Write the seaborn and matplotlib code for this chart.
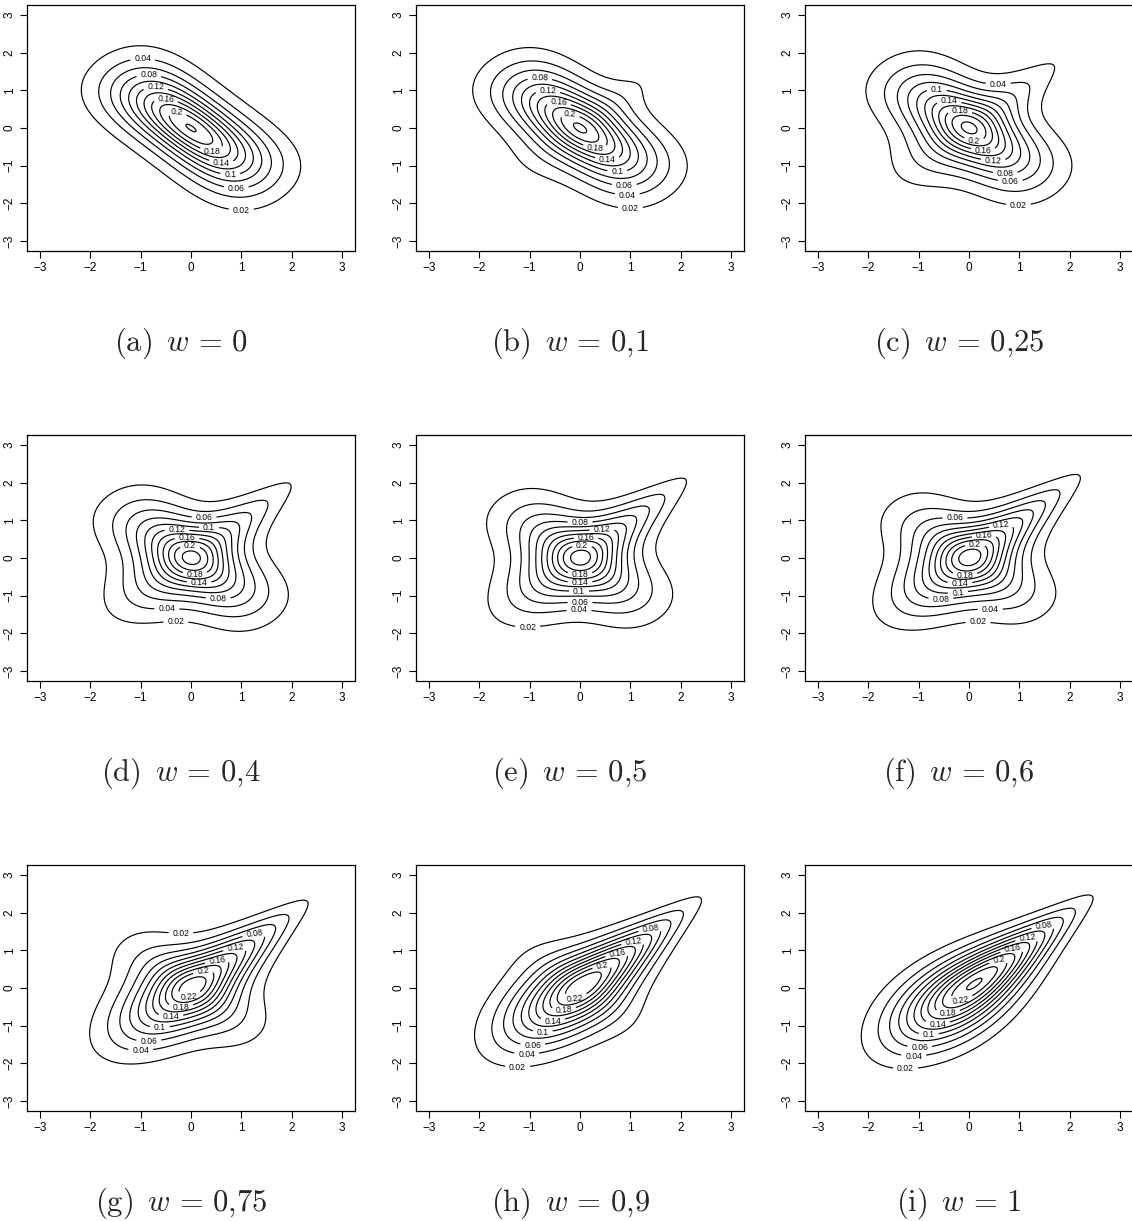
import numpy as np
import matplotlib.pyplot as plt
import seaborn as sns
from math import erf

sns.set_style('white')
plt.rcParams['font.family'] = ['Liberation Sans', 'DejaVu Sans']
plt.rcParams['mathtext.fontset'] = 'cm'

# mixture weight of the Gumbel part, the rest is Frank (negative dependence)
weights = [0, 0.1, 0.25, 0.4, 0.5, 0.6, 0.75, 0.9, 1]
panel_tags = ['(a)', '(b)', '(c)', '(d)', '(e)', '(f)', '(g)', '(h)', '(i)']
weight_labels = ['0', '0{,}1', '0{,}25', '0{,}4', '0{,}5', '0{,}6', '0{,}75', '0{,}9', '1']
theta_frank = -4.5
theta_gumbel = 2.0
levels = [0.02, 0.04, 0.06, 0.08, 0.1, 0.12, 0.14, 0.16, 0.18, 0.2, 0.22, 0.24]
ticks = [-3, -2, -1, 0, 1, 2, 3]

LABEL_SIZE = 6.2


def frank_density(u, v, th):
    num = th * (1 - np.exp(-th)) * np.exp(-th * (u + v))
    den = ((1 - np.exp(-th)) - (1 - np.exp(-th * u)) * (1 - np.exp(-th * v))) ** 2
    return num / den


def gumbel_density(u, v, th):
    a = -np.log(u)
    b = -np.log(v)
    A = a ** th + b ** th
    C = np.exp(-A ** (1 / th))
    return C / (u * v) * (a * b) ** (th - 1) * (A ** (2 / th - 2) + (th - 1) * A ** (1 / th - 2))


def label_spots(cs, ax):
    # R-like "flattest" placement: per line, the stretch with the smallest
    # vertical spread that does not run into a label already placed
    placed = []
    spots = []
    em = LABEL_SIZE * 100 / 72
    for lev, segs in zip(cs.levels, cs.allsegs):
        txt = f'{lev:g}'
        lw = em * (0.556 * (len(txt) - 1) + 0.278)
        lh = em * 0.75
        win = lw + 8
        for seg in segs:
            if len(seg) < 4:
                continue
            P = ax.transData.transform(seg)
            d = np.hypot(*np.diff(P, axis=0).T)
            total = d.sum()
            if total < 2.5 * win:  # too short, R leaves these unlabelled
                continue
            P2 = np.vstack([P, P[1:]])
            s = np.concatenate([[0], np.cumsum(np.concatenate([d, d]))])
            n = len(P)
            cands = []
            for i in range(n - 1):
                m = (s >= s[i + n - 1] - win / 2) & (s <= s[i + n - 1] + win / 2)
                pts = P2[m]
                spread = pts[:, 1].max() - pts[:, 1].min()
                ang = np.arctan2(pts[-1, 1] - pts[0, 1], pts[-1, 0] - pts[0, 0])
                cands.append((spread, i, ang))
            cands.sort()
            for spread, i, ang in cands:
                cx, cy = P[i]
                bw = abs(lw * np.cos(ang)) + abs(lh * np.sin(ang))
                bh = abs(lw * np.sin(ang)) + abs(lh * np.cos(ang))
                clash = any(abs(cx - qx) < (bw + qw) / 2 + 2 and abs(cy - qy) < (bh + qh) / 2 + 1
                            for qx, qy, qw, qh in placed)
                if not clash:
                    placed.append((cx, cy, bw, bh))
                    spots.append(tuple(seg[i]))
                    break
    return spots


grid = np.linspace(-3.2, 3.2, 321)
X, Y = np.meshgrid(grid, grid)
Phi = np.vectorize(lambda t: 0.5 * (1 + erf(t / np.sqrt(2))))
U, V = Phi(X), Phi(Y)
margins = np.exp(-(X ** 2 + Y ** 2) / 2) / (2 * np.pi)
dens_f = frank_density(U, V, theta_frank) * margins
dens_g = gumbel_density(U, V, theta_gumbel) * margins

W, H = 1132, 1221
fig = plt.figure(figsize=(W / 100, H / 100), dpi=100)

lefts = [27, 416, 805]
tops = [5, 435, 865]
aw, ah = 328, 246

for i, w in enumerate(weights):
    r, c = divmod(i, 3)
    ax = fig.add_axes([lefts[c] / W, 1 - (tops[r] + ah) / H, aw / W, ah / H])
    ax.set_xlim(-3.26, 3.26)
    ax.set_ylim(-3.26, 3.26)
    Z = w * dens_g + (1 - w) * dens_f
    cs = ax.contour(X, Y, Z, levels=levels, colors='black', linewidths=0.85)
    spots = label_spots(cs, ax)
    ax.clabel(cs, fmt=lambda v: f'{v:g}', fontsize=LABEL_SIZE, inline=True,
              inline_spacing=4, manual=spots)
    ax.set_xticks(ticks)
    ax.set_yticks(ticks)
    ax.set_xticklabels([str(t).replace('-', '\u2212') for t in ticks])
    ax.set_yticklabels([str(t).replace('-', '\u2212') for t in ticks])
    ax.tick_params(direction='out', length=5, width=0.8, labelsize=8.5, pad=3,
                   bottom=True, left=True, colors='black')
    for lab in ax.get_yticklabels():
        lab.set_rotation(90)
        lab.set_va('center')
    for sp in ax.spines.values():
        sp.set_color('black')
        sp.set_linewidth(0.9)
    fig.text((lefts[c] + aw / 2 - 10) / W, 1 - (tops[r] + 338) / H,
             r'$\mathrm{' + panel_tags[i] + r'}\ \,w\,=\,' + weight_labels[i] + '$',
             ha='center', va='center', fontsize=22)

fig.savefig('out.png', dpi=100, facecolor='white')
